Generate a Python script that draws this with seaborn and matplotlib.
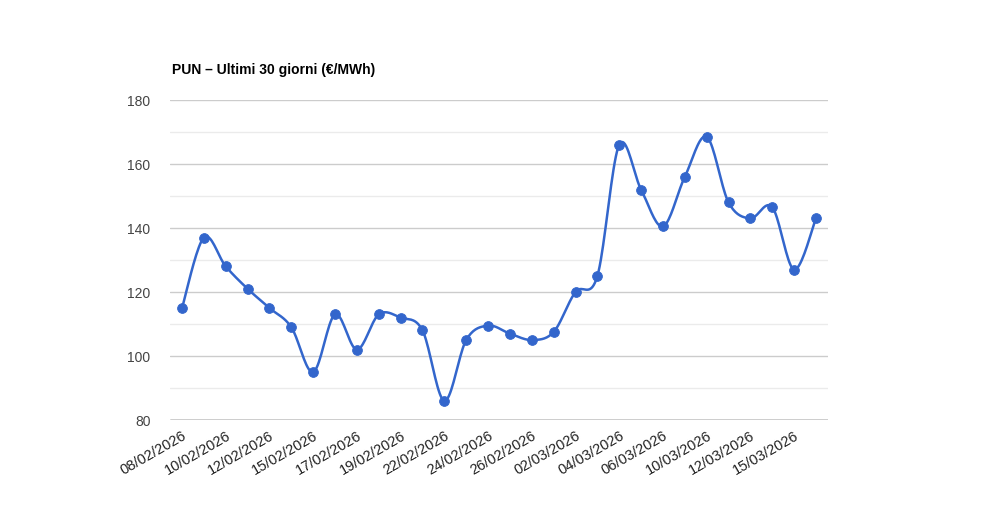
import numpy as np
import pandas as pd
import matplotlib
matplotlib.use("Agg")
import matplotlib.pyplot as plt
import seaborn as sns

dates = ["08/02/2026","09/02/2026","10/02/2026","11/02/2026","12/02/2026","13/02/2026",
         "15/02/2026","16/02/2026","17/02/2026","18/02/2026","19/02/2026","20/02/2026",
         "22/02/2026","23/02/2026","24/02/2026","25/02/2026","26/02/2026","27/02/2026",
         "02/03/2026","03/03/2026","04/03/2026","05/03/2026","06/03/2026","09/03/2026",
         "10/03/2026","11/03/2026","12/03/2026","13/03/2026","15/03/2026","16/03/2026"]
prices = [115, 137, 128, 121, 115, 109, 95, 113, 102, 113, 112, 108, 86, 105, 109.5,
          107, 105, 107.5, 120, 125, 166, 152, 140.5, 156, 168.5, 148, 143, 146.5, 127, 143]

sns.set_style("white")
plt.rcParams['font.family'] = ['Liberation Sans', 'DejaVu Sans']
color = "#3366cc"

df = pd.DataFrame({"x": np.arange(len(prices)), "y": prices})

fig = plt.figure(figsize=(10, 5.2), dpi=100)
ax = fig.add_axes([0.170, 1 - 420/520, 0.658, 320/520])

# smooth curve (Catmull-Rom through the data points)
x = df["x"].to_numpy(float); y = df["y"].to_numpy(float)
px = np.concatenate([[x[0]], x, [x[-1]]]); py = np.concatenate([[y[0]], y, [y[-1]]])
cx, cy = [], []
t = np.linspace(0, 1, 20)
for i in range(1, len(px) - 2):
    for P, out in ((px, cx), (py, cy)):
        p0, p1, p2, p3 = P[i-1], P[i], P[i+1], P[i+2]
        out.extend(0.5 * ((2*p1) + (-p0+p2)*t + (2*p0-5*p1+4*p2-p3)*t**2 + (-p0+3*p1-3*p2+p3)*t**3))
ax.plot(cx, cy, color=color, lw=1.8, zorder=3)
sns.scatterplot(data=df, x="x", y="y", ax=ax, color=color, s=50, edgecolor=color, zorder=4, legend=False)

ax.set_ylim(80, 180)
ax.set_xlim(-0.55, len(prices) - 0.45)
ax.set_yticks(np.arange(80, 181, 20))
ax.set_yticks(np.arange(90, 180, 20), minor=True)
ax.grid(which="major", axis="y", color="#cccccc", lw=1)
ax.grid(which="minor", axis="y", color="#ebebeb", lw=1)
ax.axhline(80, color="#333333", lw=1, zorder=2)
ax.tick_params(axis="y", which="both", length=0, labelsize=10, colors="#444444", pad=14)
ax.set_xticks(x[::2])
ax.set_xticklabels(dates[::2], rotation=30, ha="right", rotation_mode="anchor")
ax.tick_params(axis="x", length=0, labelsize=10.5, colors="#222222", pad=6)
for s in ax.spines.values():
    s.set_visible(False)
ax.set_xlabel(""); ax.set_ylabel("")
ax.set_axisbelow(True)

fig.text(0.172, 1 - 70/520, "PUN – Ultimi 30 giorni (€/MWh)", fontsize=10, fontweight="bold",
         color="#000000", va="center")
fig.savefig("out.png", dpi=100)
